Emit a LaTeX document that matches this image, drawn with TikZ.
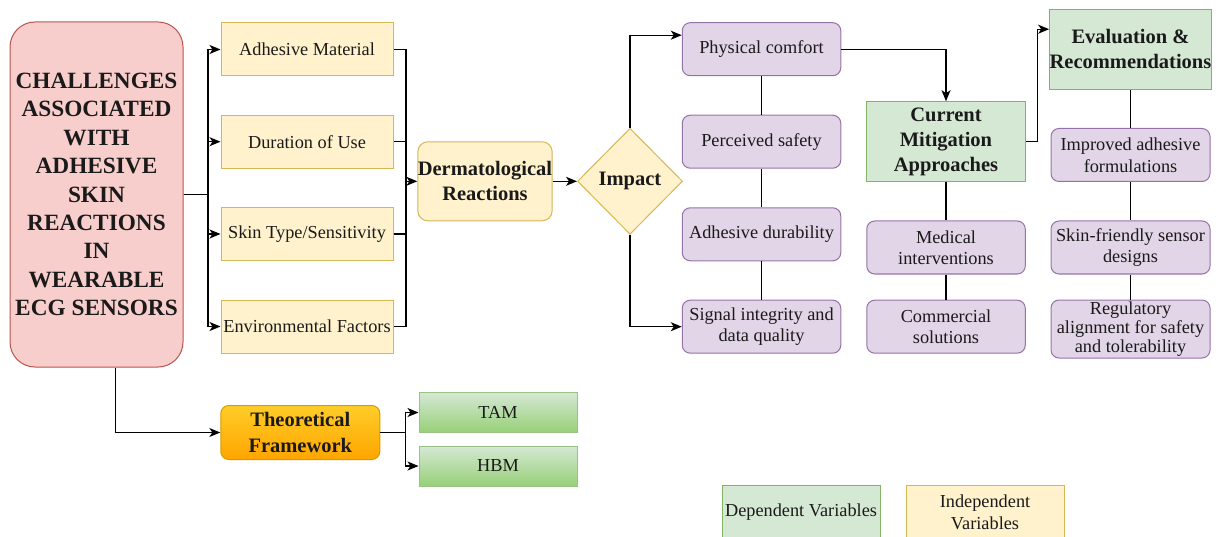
\documentclass[tikz,border=0pt]{standalone}
\usepackage{fontspec}
\setmainfont{Liberation Serif}
\usetikzlibrary{arrows.meta,shapes.geometric}

\definecolor{yfill}{HTML}{FFF2CC}
\definecolor{ystroke}{HTML}{D6B656}
\definecolor{pfill}{HTML}{E1D5E7}
\definecolor{pstroke}{HTML}{9673A6}
\definecolor{rfill}{HTML}{F8CECC}
\definecolor{rstroke}{HTML}{B85450}
\definecolor{gfill}{HTML}{D5E8D4}
\definecolor{gstroke}{HTML}{82B366}
\definecolor{gdark}{HTML}{97D077}
\definecolor{otop}{HTML}{FFCD28}
\definecolor{obot}{HTML}{FFA500}
\definecolor{ostroke}{HTML}{D79B00}
\definecolor{ink}{HTML}{1A1A1A}

\newcommand\regtext{\fontsize{18.3}{21.5}\selectfont}
\newcommand\boldtext{\fontsize{20.5}{25}\selectfont\bfseries}
\newcommand\titletext{\fontsize{23.3}{28.4}\selectfont\bfseries}

\tikzset{
  base/.style={draw, line width=1pt, align=center, inner sep=0pt, text=ink, font=\regtext},
  ybox/.style={base, fill=yfill, draw=ystroke, minimum width=172pt, minimum height=53pt},
  pbox/.style={base, rounded corners=8pt, fill=pfill, draw=pstroke, minimum width=158.5pt, minimum height=53pt},
  gbox/.style={base, fill=gfill, draw=gstroke, minimum width=158.5pt, minimum height=80pt, font=\boldtext},
  gradbox/.style={base, top color=gfill, bottom color=gdark, draw=gstroke!80, minimum width=158pt, minimum height=40pt},
  ln/.style={line width=1.2pt, draw=black},
  arr/.style={ln, -{Stealth[length=11pt,width=9pt,inset=3pt]}},
}

\begin{document}
\begin{tikzpicture}[x=1pt,y=-1pt]
\useasboundingbox (0,0) rectangle (1220,537);
\clip (0,0) rectangle (1220,537);

% main topic
\node[base, rounded corners=25pt, fill=rfill, draw=rstroke, minimum width=173pt, minimum height=345pt, font=\titletext]
  (ch) at (96.5,194.5) {CHALLENGES\\ASSOCIATED\\WITH\\ADHESIVE\\SKIN\\REACTIONS\\IN\\WEARABLE\\ECG SENSORS};

% independent variables
\node[ybox] (am) at (307,49.5)  {Adhesive Material};
\node[ybox] (du) at (307,141.7) {Duration of Use};
\node[ybox] (st) at (307,234)   {Skin Type/Sensitivity};
\node[ybox] (ef) at (307,326.5) {Environmental Factors};

\node[base, rounded corners=10pt, fill=yfill, draw=ystroke, minimum width=132pt, minimum height=79pt, font=\boldtext]
  (dr) at (485,181.3) {Dermatological\\Reactions};

\node[base, diamond, fill=yfill, draw=ystroke, minimum width=105pt, minimum height=106pt, font=\boldtext]
  (im) at (630,181.3) {Impact};

% impact column
\node[pbox] (pc) at (761.5,49.2)  {Physical comfort};
\node[pbox] (ps) at (761.5,141.7) {Perceived safety};
\node[pbox] (ad) at (761.5,234.3) {Adhesive durability};
\node[pbox] (si) at (761.5,326.7) {Signal integrity and\\data quality};

% mitigation column
\node[gbox] (mi) at (946,141.7) {Current\\Mitigation\\Approaches};
\node[pbox] (md) at (946,247.5) {Medical\\interventions};
\node[pbox] (cs) at (946,326.7) {Commercial\\solutions};

% evaluation column
\node[gbox, minimum width=159pt] (ev) at (1130.5,49.2) {Evaluation \&\\Recommendations};
\node[pbox, minimum width=159pt] (ia) at (1130.5,155)   {Improved adhesive\\formulations};
\node[pbox, minimum width=159pt] (sf) at (1130.5,247.5) {Skin-friendly sensor\\designs};
\node[pbox, minimum width=159pt, minimum height=58pt, font=\fontsize{18.3}{19}\selectfont]
  (ra) at (1130.5,329) {Regulatory\\alignment for safety\\and tolerability};

% theoretical framework
\node[base, rounded corners=8pt, top color=otop, bottom color=obot, draw=ostroke, minimum width=159pt, minimum height=54pt, font=\fontsize{20.5}{25.5}\selectfont\bfseries]
  (tf) at (300.3,432.5) {Theoretical\\Framework};
\node[gradbox] (tam) at (498,412.5) {TAM};
\node[gradbox] (hbm) at (498,466)   {HBM};

% legend
\node[base, fill=gfill, draw=gstroke, minimum width=158pt, minimum height=54pt] (ldv) at (801,512) {Dependent Variables};
\node[base, fill=yfill, draw=ystroke, minimum width=158pt, minimum height=54pt, font=\fontsize{18.3}{21.6}\selectfont] (liv) at (985,512) {Independent\\Variables};

% junction points
\coordinate (jL) at (208,194.5);
\coordinate (jR) at (406,181.3);
\coordinate (jT) at (405.7,432.5);

% connectors
\foreach \n in {am,du,st,ef} {
  \draw[arr] (ch.east) -- (jL) |- (\n.west);
  \draw[ln] (\n.east) -| (jR);
}
\draw[arr] (jR) -- (dr.west);
\draw[arr] (dr.east) -- (im.west);
\draw[arr] (im.north) |- ([yshift=14pt]pc.west);
\draw[arr] (im.south) |- (si.west);
\draw[ln] (pc.south) -- (ps.north) (ps.south) -- (ad.north) (ad.south) -- (si.north);
\draw[arr] (pc.east) -| (mi.north);
\draw[ln] (mi.south) -- (md.north) (md.south) -- (cs.north);
\draw[arr] (mi.east) -- ++(12,0) |- ([yshift=20pt]ev.west);
\draw[ln] (ev.south) -- (ia.north) (ia.south) -- (sf.north) (sf.south) -- (ra.north);
\draw[arr] ([xshift=19pt]ch.south) |- (tf.west);
\draw[ln] (tf.east) -- (jT);
\draw[arr] (jT) |- (tam.west);
\draw[arr] (jT) |- (hbm.west);
\end{tikzpicture}
\end{document}
